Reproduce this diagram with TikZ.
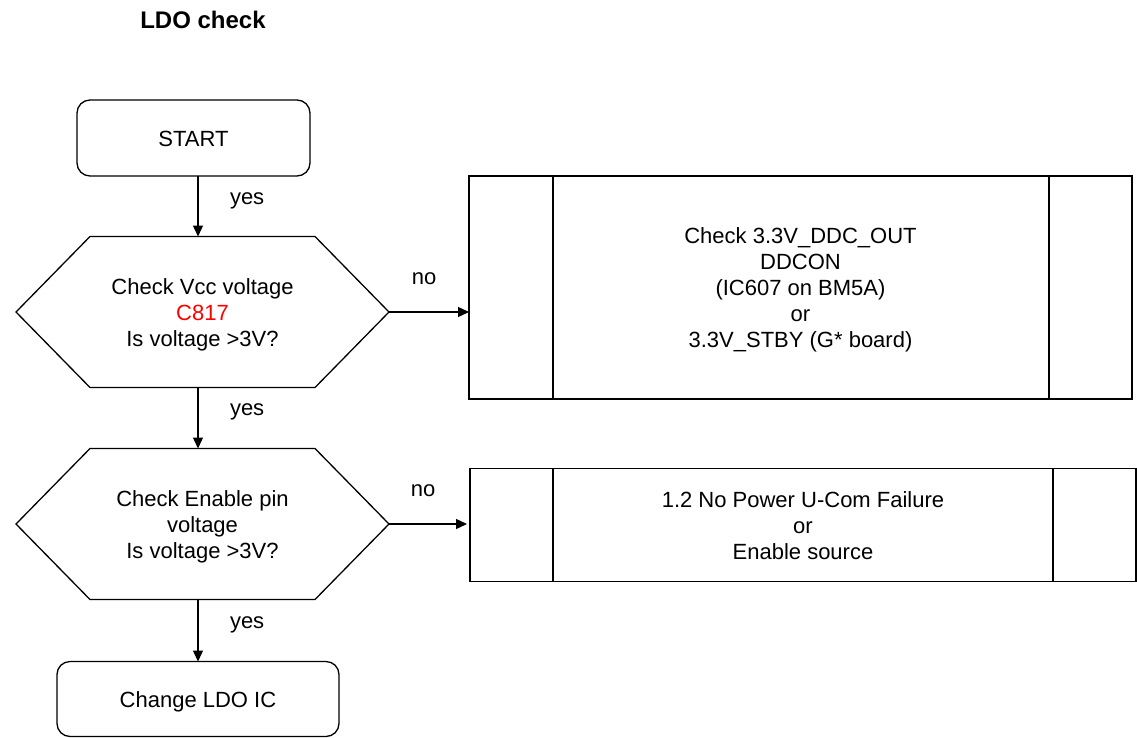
\documentclass[tikz,border=0pt]{standalone}
\usepackage{fontspec}
\setmainfont{Liberation Sans}
\usetikzlibrary{arrows.meta}
\newcommand\myfirst{\rule{0pt}{21.5pt}}
\newcommand\mylast{\rule[-4.5pt]{0pt}{0pt}}
\begin{document}
\begin{tikzpicture}[x=1pt,y=-1pt,
  every node/.style={inner sep=0pt,outer sep=0pt,font=\fontsize{22}{26}\selectfont},
  ln/.style={line width=1.3pt,draw=black},
  arr/.style={ln,-{Triangle[length=11pt,width=10pt]}},
  termbox/.style={ln,rounded corners=13pt,text height=21.5pt,text depth=4.5pt},
  procbox/.style={ln,align=center},
  hexnode/.style={align=center,minimum width=373pt,minimum height=151pt},
  lab/.style={font=\fontsize{22}{26}\selectfont}
]
\useasboundingbox (0,0) rectangle (1137,737);

% title
\node[font=\bfseries\fontsize{24}{28}\selectfont] (title) at (203,20) {LDO check};

% start
\node[termbox,minimum width=233pt,minimum height=76pt] (start) at (193.5,138) {START};

% hexagon 1
\node[hexnode] (h1) at (202.5,312) {\myfirst Check Vcc voltage\\\textcolor[HTML]{FF0000}{C817}\\Is voltage >3V?\mylast};
\draw[ln] (h1.west) -- ([xshift=74pt]h1.north west) -- ([xshift=-74pt]h1.north east) -- (h1.east)
  -- ([xshift=-74pt]h1.south east) -- ([xshift=74pt]h1.south west) -- cycle;

% hexagon 2
\node[hexnode] (h2) at (202.5,524) {\myfirst Check Enable pin\\voltage\\Is voltage >3V?\mylast};
\draw[ln] (h2.west) -- ([xshift=74pt]h2.north west) -- ([xshift=-74pt]h2.north east) -- (h2.east)
  -- ([xshift=-74pt]h2.south east) -- ([xshift=74pt]h2.south west) -- cycle;

% end box
\node[termbox,minimum width=282pt,minimum height=75pt] (endbox) at (198,699) {Change LDO IC};

% process box 1
\node[procbox,minimum width=663pt,minimum height=223pt] (p1) at (800.5,287.5)
  {\myfirst Check 3.3V\_DDC\_OUT\\DDCON\\(IC607 on BM5A)\\or\\3.3V\_STBY (G* board)\mylast};
\draw[ln] ([xshift=84pt]p1.north west) -- ([xshift=84pt]p1.south west);
\draw[ln] ([xshift=-83pt]p1.north east) -- ([xshift=-83pt]p1.south east);

% process box 2
\node[procbox,minimum width=666pt,minimum height=113pt] (p2) at (803,525)
  {\myfirst 1.2 No Power U-Com Failure\\or\\Enable source\mylast};
\draw[ln] ([xshift=83pt]p2.north west) -- ([xshift=83pt]p2.south west);
\draw[ln] ([xshift=-83pt]p2.north east) -- ([xshift=-83pt]p2.south east);

% connectors
\draw[arr] ([xshift=4.5pt]start.south) -- node[pos=0.34,anchor=west,xshift=32pt,yshift=-4pt,lab] {yes} ([xshift=-4.5pt]h1.north);
\draw[arr] ([xshift=-4.5pt]h1.south) -- node[pos=0.34,anchor=west,xshift=32pt,yshift=-4pt,lab] {yes} ([xshift=-4.5pt]h2.north);
\draw[arr] ([xshift=-4.5pt]h2.south) -- node[pos=0.34,anchor=west,xshift=32pt,yshift=-4pt,lab] {yes} (endbox.north);
\draw[arr] (h1.east) -- node[midway,yshift=33pt,xshift=-5pt,lab] {no} (h1.east -| p1.west);
\draw[arr] (h2.east) -- node[midway,yshift=33pt,xshift=-5pt,lab] {no} ([xshift=-3pt]h2.east -| p2.west);
\end{tikzpicture}
\end{document}
